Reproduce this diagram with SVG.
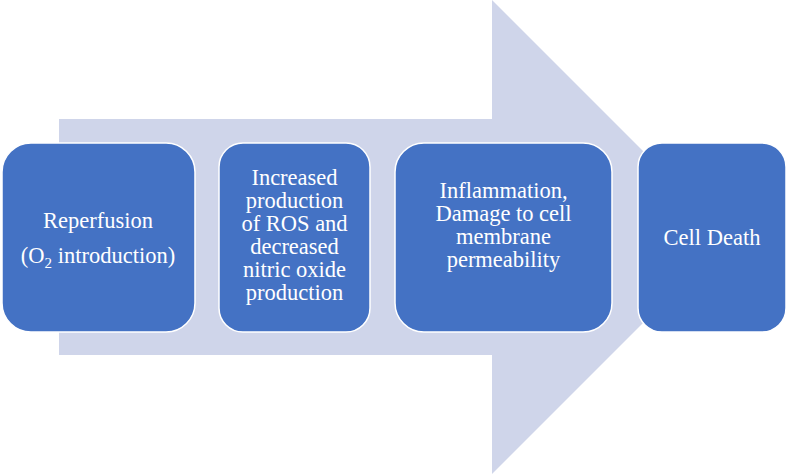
<svg xmlns="http://www.w3.org/2000/svg" width="787" height="474" viewBox="0 0 787 474">
<style>
.box{fill:#4472C4;stroke:#FFFFFF;stroke-width:1.5}
text{font-family:'Liberation Serif','DejaVu Serif',serif;font-size:22.5px;fill:#FFFFFF;text-anchor:middle}
</style>
<rect width="787" height="474" fill="#FFFFFF"/>
<g id="connectors">
<polygon points="59,119 492,119 492,0 729,237 492,474 492,355 59,355" fill="#CFD5EA"/>
</g>
<g id="node1">
<rect class="box" x="2" y="143" width="193" height="189" rx="29"/>
<text x="98" y="228" font-family="Liberation Serif">Reperfusion</text>
<text x="98" y="263" font-family="Liberation Serif">(O<tspan font-size="15" dy="5">2</tspan><tspan dy="-5"> introduction)</tspan></text>
</g>
<g id="node2">
<rect class="box" x="219" y="143" width="151" height="189" rx="24"/>
<text x="294.5" y="185">Increased</text>
<text x="294.5" y="208">production</text>
<text x="294.5" y="231">of ROS and</text>
<text x="294.5" y="254">decreased</text>
<text x="294.5" y="277">nitric oxide</text>
<text x="294.5" y="300">production</text>
</g>
<g id="node3">
<rect class="box" x="395" y="143" width="217" height="189" rx="29"/>
<text x="503.5" y="198">Inflammation,</text>
<text x="503.5" y="221">Damage to cell</text>
<text x="503.5" y="244">membrane</text>
<text x="503.5" y="267">permeability</text>
</g>
<g id="node4">
<rect class="box" x="638" y="143" width="148" height="189" rx="24"/>
<text x="712" y="245">Cell Death</text>
</g>
</svg>
